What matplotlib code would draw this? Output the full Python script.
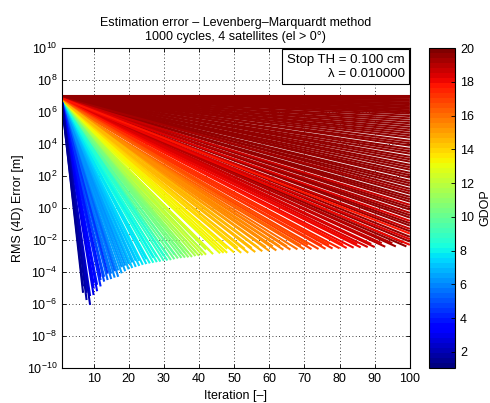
"""
Estimation error of the Levenberg-Marquardt solver
over 1000 cycles with 4 satellites, coloured by GDOP.
"""

import numpy as np
import matplotlib.pyplot as plt
from matplotlib import colors, cm

plt.rcParams["font.family"] = ["Liberation Sans", "DejaVu Sans"]
plt.rcParams["font.size"] = 9

# ==========================================================
# Data (one entry per cycle: GDOP, log10 error at iteration 1,
# last iteration shown, log10 error at that iteration)
# ==========================================================

gdop = [
    # fast convergence
    1.4, 2.0, 1.8, 2.4, 2.2, 2.8, 3.0, 3.4, 3.6, 3.9, 4.2, 4.5, 4.8, 5.0,
    5.3, 5.5, 5.7, 5.9, 2.6, 3.2, 4.0, 4.6, 5.2,
    6.0, 6.2, 6.4, 6.6, 6.8, 7.0, 7.2, 7.4, 7.6, 7.8, 8.0, 8.2, 8.4, 8.6,
    8.8, 9.0, 7.1, 8.1, 6.3, 6.1, 6.5, 6.9, 7.3, 7.7, 8.3, 8.7, 9.1,
    9.8, 10.0, 10.3, 10.5, 10.8, 11.0, 11.3, 11.6, 11.9, 12.1, 12.4, 12.8,
    13.1, 13.3, 10.6, 12.2, 9.9, 10.4, 11.1, 11.5, 12.0, 12.6, 13.0, 13.4,
    13.3, 13.6, 14.0, 14.3, 14.6, 14.9, 15.1, 15.4, 15.6, 15.9, 16.1, 16.4,
    14.6, 15.5, 13.8, 14.1, 14.4, 15.0, 15.3, 15.8, 16.2, 16.5,
    16.8, 17.0, 17.2, 17.4, 17.6, 17.8, 18.0, 18.2, 18.4, 18.6, 18.9, 19.3,
    19.6, 17.1, 17.3, 17.7, 18.1, 18.5, 18.8, 19.1, 19.5,
    # not converged after 100 iterations
    18.2, 20.4, 18.5, 21.0, 17.9, 22.0, 18.8, 20.8, 23.0, 18.4, 21.5, 24.0,
    19.0, 22.5, 25.0, 18.6, 23.5, 26.0, 21.2, 27.0, 19.2, 28.0, 22.8, 29.0,
    26.5, 30.0, 25.5, 31.0, 27.5, 32.0, 29.5, 34.0, 28.5, 36.0, 31.5, 38.0,
    33.0, 40.0, 35.0, 42.0, 37.0, 45.0, 39.0, 48.0, 43.0, 52.0, 47.0, 56.0,
    50.0, 60.0, 58.0, 65.0, 70.0, 75.0, 80.0, 90.0, 100.0, 115.0, 130.0,
    150.0, 180.0, 220.0, 300.0,
]

log_err_first = [
    6.55, 6.5, 6.6, 6.5, 6.55, 6.5, 6.6, 6.5, 6.55, 6.6, 6.5, 6.55, 6.6, 6.5,
    6.55, 6.6, 6.5, 6.55, 6.6, 6.55, 6.5, 6.6, 6.55,
    6.6, 6.5, 6.55, 6.6, 6.5, 6.55, 6.6, 6.5, 6.55, 6.6, 6.5, 6.55, 6.6, 6.5,
    6.55, 6.6, 6.6, 6.5, 6.6, 6.55, 6.5, 6.6, 6.55, 6.5, 6.55, 6.6, 6.5,
    6.6, 6.5, 6.55, 6.6, 6.5, 6.55, 6.6, 6.5, 6.55, 6.6, 6.5, 6.55,
    6.6, 6.5, 6.6, 6.5, 6.55, 6.6, 6.5, 6.55, 6.6, 6.5, 6.55, 6.6,
    6.6, 6.55, 6.5, 6.6, 6.55, 6.5, 6.6, 6.55, 6.5, 6.6, 6.55, 6.5,
    6.7, 6.65, 6.6, 6.55, 6.65, 6.6, 6.7, 6.65, 6.7, 6.75,
    6.7, 6.65, 6.7, 6.75, 6.7, 6.8, 6.75, 6.8, 6.85, 6.8, 6.85, 6.9,
    6.85, 6.7, 6.75, 6.8, 6.75, 6.85, 6.8, 6.85, 6.9,
    6.85, 6.9, 6.8, 6.95, 6.85, 6.9, 6.8, 6.95, 6.9, 6.85, 6.95, 6.9,
    6.85, 6.95, 6.9, 6.85, 6.95, 6.9, 6.85, 6.95, 6.9, 7.0, 6.85, 6.95,
    6.9, 7.0, 6.9, 6.95, 6.9, 7.0, 6.95, 6.9, 7.0, 6.95, 6.9, 7.0,
    6.95, 7.0, 6.9, 7.0, 6.95, 7.0, 6.95, 7.0, 6.95, 7.0, 6.95, 7.0,
    6.95, 7.0, 6.95, 7.0, 7.0, 6.95, 7.0, 7.0, 7.0, 7.0, 7.0,
    7.0, 7.0, 7.0, 7.0,
]

last_iter = [
    7, 7, 8, 8, 9, 9, 10, 10, 11, 11, 12, 12, 13, 13,
    14, 15, 15, 16, 8, 10, 12, 14, 16,
    17, 17, 18, 19, 20, 21, 22, 23, 24, 25, 26, 27, 28, 29,
    30, 31, 22, 27, 19, 18, 20, 21, 23, 25, 28, 30, 31,
    32, 33, 34, 35, 36, 37, 38, 39, 40, 41, 42, 44,
    46, 47, 36, 42, 33, 35, 37, 39, 41, 43, 45, 48,
    48, 50, 52, 54, 56, 58, 60, 62, 64, 66, 68, 70,
    57, 63, 51, 53, 55, 59, 61, 65, 69, 71,
    72, 74, 76, 78, 80, 82, 84, 86, 88, 90, 93, 96,
    99, 75, 77, 81, 85, 89, 92, 95, 98,
    100, 100, 100, 100, 100, 100, 100, 100, 100, 100, 100, 100,
    100, 100, 100, 100, 100, 100, 100, 100, 100, 100, 100, 100,
    100, 100, 100, 100, 100, 100, 100, 100, 100, 100, 100, 100,
    100, 100, 100, 100, 100, 100, 100, 100, 100, 100, 100, 100,
    100, 100, 100, 100, 100, 100, 100, 100, 100, 100, 100,
    100, 100, 100, 100,
]

log_err_last = [
    -5.3, -4.9, -5.75, -5.3, -6.06, -5.5, -5.44, -5.0, -5.2, -4.8, -4.9, -4.5,
    -4.6, -4.3, -4.5, -4.44, -4.1, -4.35, -5.0, -4.7, -4.3, -4.1, -3.95,
    -4.3, -3.9, -4.08, -3.95, -3.83, -3.75, -3.68, -3.62, -3.55, -3.5, -3.46,
    -3.42, -3.38, -3.35, -3.3, -3.28, -3.3, -3.1, -3.6, -3.7, -3.5, -3.4,
    -3.3, -3.2, -3.05, -3.0, -2.95,
    -3.25, -3.2, -3.15, -3.12, -3.1, -3.08, -3.06, -3.0, -2.98, -2.95, -2.92,
    -2.88, -2.83, -2.8, -2.8, -2.6, -2.9, -2.85, -2.8, -2.75, -2.7, -2.65,
    -2.6, -2.55,
    -2.8, -2.78, -2.8, -2.8, -2.75, -2.7, -2.68, -2.65, -2.6, -2.6, -2.58,
    -2.58, -2.5, -2.4, -2.5, -2.55, -2.5, -2.45, -2.4, -2.4, -2.35, -2.3,
    -2.57, -2.56, -2.55, -2.53, -2.52, -2.5, -2.48, -2.46, -2.44, -2.44,
    -2.42, -2.4, -2.4, -2.35, -2.3, -2.3, -2.25, -2.25, -2.2, -2.2, -2.15,
    -2.3, -2.1, -1.95, -1.8, -1.6, -1.45, -1.3, -1.1, -0.95, -0.8, -0.6, -0.45,
    -0.3, -0.1, 0.05, 0.2, 0.4, 0.55, 0.7, 0.9, 1.05, 1.2, 1.4, 1.55,
    1.7, 1.9, 2.05, 2.2, 2.4, 2.55, 2.7, 2.9, 3.05, 3.2, 3.4, 3.55,
    3.7, 3.9, 4.05, 4.2, 4.4, 4.55, 4.7, 4.85, 5.0, 5.15, 5.3, 5.45,
    5.6, 5.75, 5.9, 6.0, 6.1, 6.2, 6.3, 6.4, 6.5, 6.6, 6.7,
    6.8, 6.9, 6.95, 7.0,
]

stop_th_cm = 0.100
lm_lambda = 0.010000

# ==========================================================
# Figure
# ==========================================================

fig = plt.figure(figsize=(4.9, 4.03), dpi=100)
ax = fig.add_axes([0.1265, 0.0868, 0.710, 0.794])
cax = fig.add_axes([0.8755, 0.0868, 0.053, 0.794])

cmap = plt.get_cmap("jet", 64)
norm = colors.Normalize(vmin=1.05, vmax=20)

# high GDOP first so the faster cycles end up on top
order = np.argsort(gdop, kind="stable")[::-1]

for i in order:
    # cycles above the colour limit take the last-but-one map entry
    c = cmap(norm(min(gdop[i], 19.6)))
    ax.semilogy(
        [1, last_iter[i]],
        [10.0 ** log_err_first[i], 10.0 ** log_err_last[i]],
        color=c,
        linewidth=1.5,
        solid_capstyle="butt",
    )

ax.set_xlim(1, 100)
ax.set_ylim(1e-10, 1e10)
ax.set_xticks(range(10, 101, 10))
ax.set_yticks([10.0 ** k for k in range(-10, 11, 2)])
ax.minorticks_off()
ax.tick_params(direction="in", top=True, right=True, length=3, width=0.6)
ax.set_axisbelow(True)
ax.grid(True, color="k", linestyle=(0, (1, 3)), linewidth=0.6)

for spine in ax.spines.values():
    spine.set_linewidth(0.8)

ax.set_xlabel("Iteration [–]")
ax.set_ylabel("RMS (4D) Error [m]", labelpad=2)
ax.set_title(
    "Estimation error – Levenberg–Marquardt method\n"
    "1000 cycles, 4 satellites (el > 0°)",
    fontsize=9,
    pad=6,
)

ax.text(
    0.985,
    0.982,
    f"Stop TH = {stop_th_cm:.3f} cm\nλ = {lm_lambda:.6f}",
    transform=ax.transAxes,
    ha="right",
    va="top",
    multialignment="right",
    fontsize=9.5,
    bbox=dict(boxstyle="square,pad=0.35", facecolor="white",
              edgecolor="black", linewidth=0.8),
)

# ==========================================================
# Colorbar
# ==========================================================

sm = cm.ScalarMappable(norm=norm, cmap=cmap)
cb = fig.colorbar(sm, cax=cax, ticks=range(2, 21, 2))
cb.set_label("GDOP")
cb.ax.tick_params(direction="in", length=3, width=0.6)
cb.outline.set_linewidth(0.8)

fig.savefig("out.png", dpi=100)
